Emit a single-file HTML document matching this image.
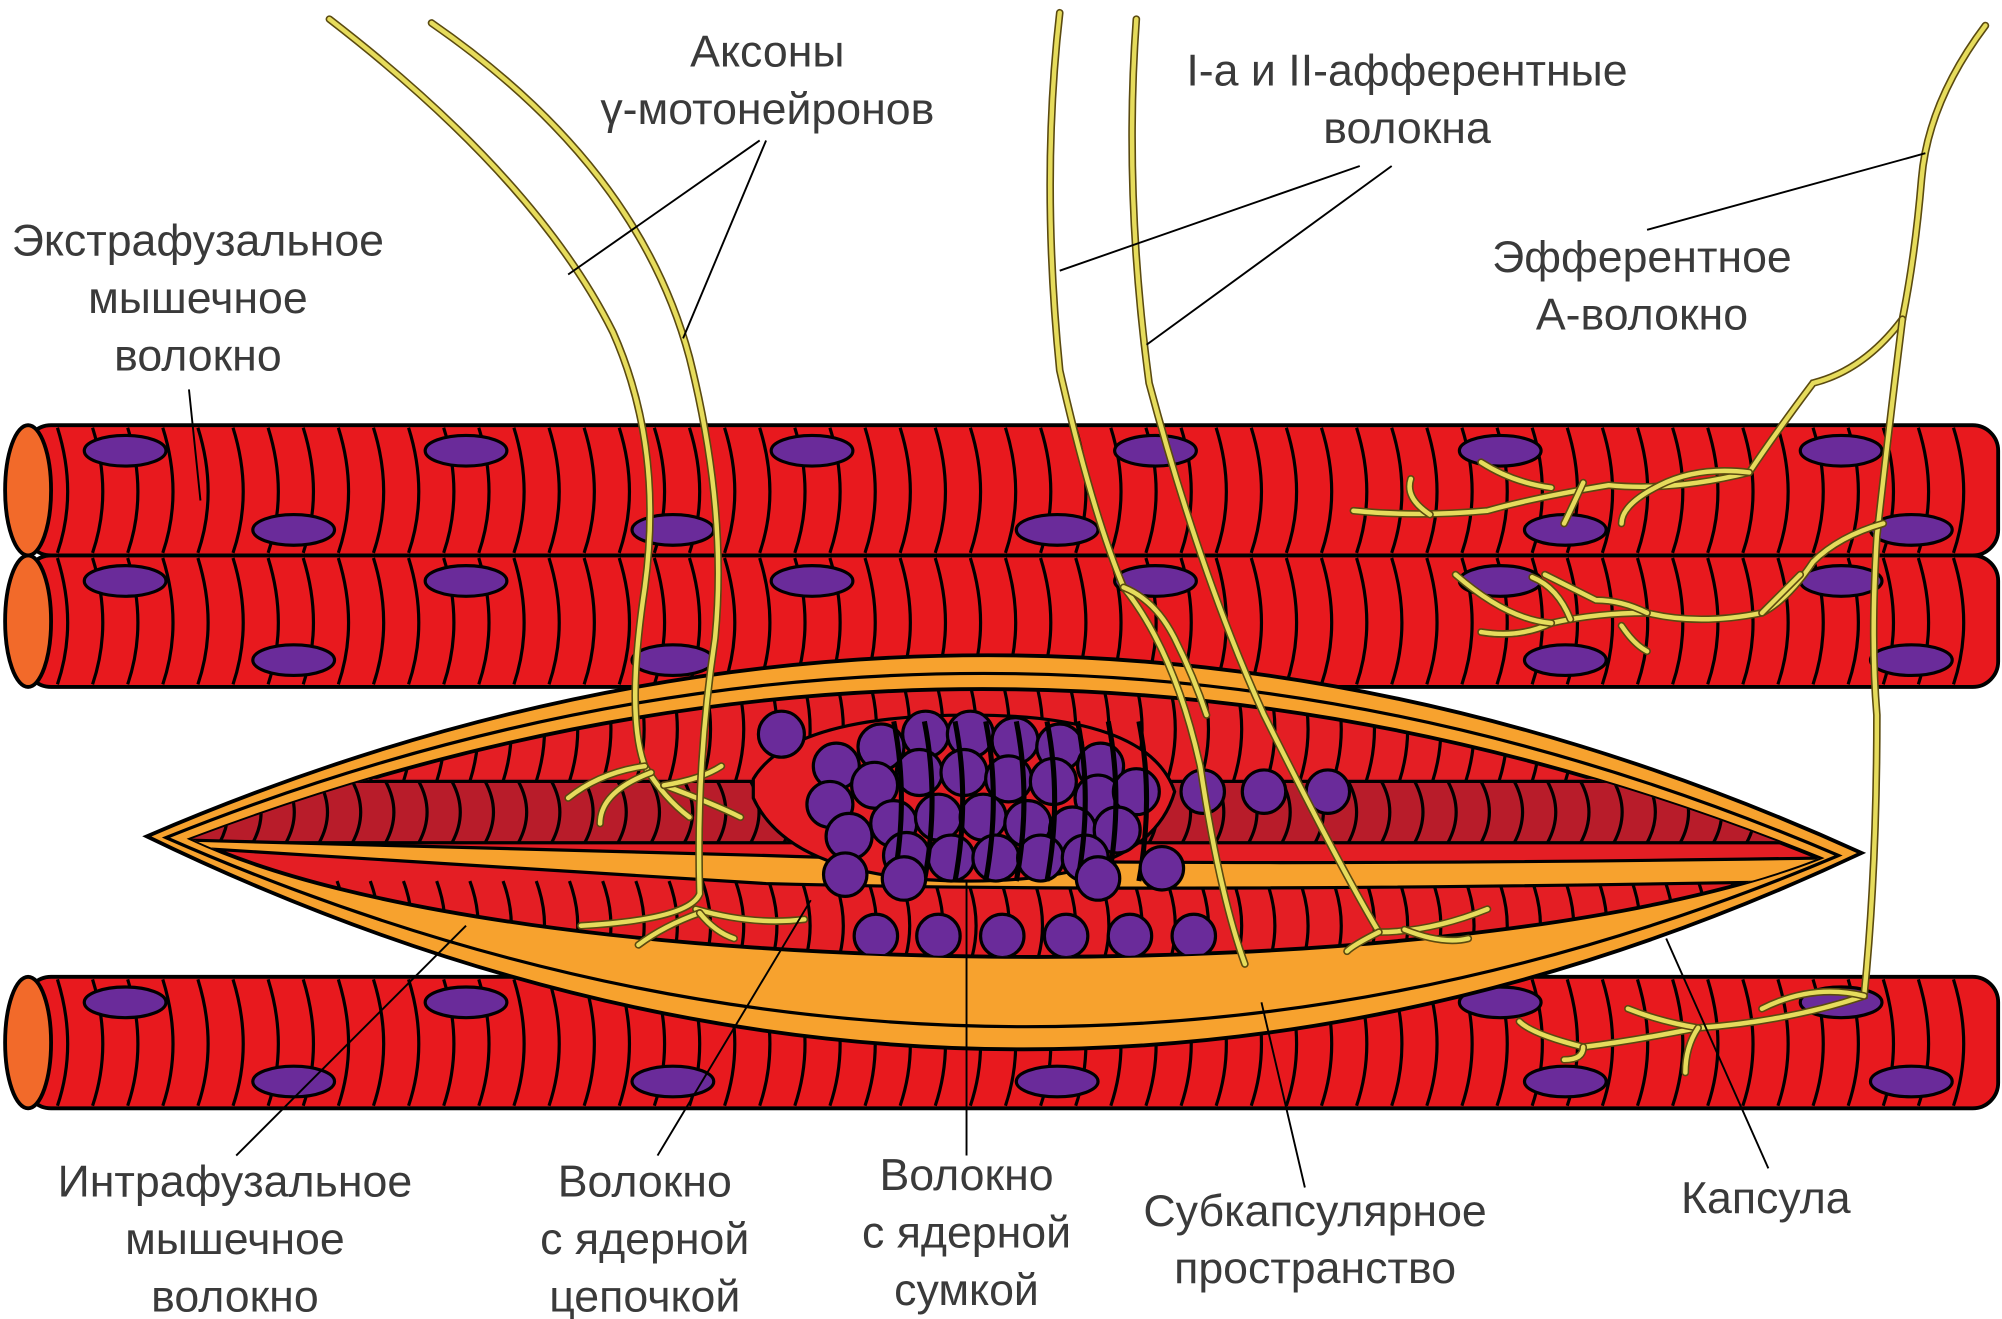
<!DOCTYPE html>
<html><head><meta charset="utf-8"><style>
html,body{margin:0;padding:0;background:#fff;width:2002px;height:1319px;overflow:hidden}
svg{display:block}
text{font-family:"Liberation Sans",sans-serif;font-size:35px;fill:#3a3a3a;text-anchor:middle}
</style></head><body>
<svg id="s" width="2002" height="1319" viewBox="0 0 1568 1033" preserveAspectRatio="none" xmlns="http://www.w3.org/2000/svg">
<defs>
<clipPath id="inner"><path d="M150,657 Q790,415 1425,672 C1150,780 400,775 150,657Z"/></clipPath>
</defs>
<g id="fibers"></g>
<g id="spindle">
<path d="M115,655 Q790,365 1458,668 Q790,982 115,655Z" fill="#f7a22e" stroke="#000" stroke-width="3"/>
<path d="M130,656 Q790,392 1440,670 Q790,945 130,656Z" fill="none" stroke="#000" stroke-width="2.5"/>
<path d="M150,657 Q790,415 1425,672 C1150,780 400,775 150,657Z" fill="#e41e24" stroke="#000" stroke-width="3"/>
<g clip-path="url(#inner)" id="inside"></g>
</g>
<g id="nerves" fill="none" stroke-linecap="round"></g>
<g stroke="#000" stroke-width="1.5" fill="none">
<line x1="445" y1="215" x2="595" y2="110"/><line x1="535" y1="265" x2="600" y2="110"/>
<line x1="830" y1="212" x2="1065" y2="130"/><line x1="898" y1="270" x2="1090" y2="130"/>
<line x1="1290" y1="180" x2="1508" y2="120"/>
<line x1="148" y1="305" x2="157" y2="392"/>
<line x1="185" y1="905" x2="365" y2="725"/>
<line x1="515" y1="905" x2="635" y2="705"/>
<line x1="757" y1="905" x2="757" y2="690"/>
<line x1="1022" y1="930" x2="988" y2="785"/>
<line x1="1385" y1="915" x2="1305" y2="735"/>
</g>
<text x="601" y="52">Аксоны</text><text x="601" y="97">γ-мотонейронов</text>
<text x="1102" y="67">I-а и II-афферентные</text><text x="1102" y="112">волокна</text>
<text x="155" y="200">Экстрафузальное</text><text x="155" y="245">мышечное</text><text x="155" y="290">волокно</text>
<text x="1286" y="213">Эфферентное</text><text x="1286" y="258">А-волокно</text>
<text x="184" y="937">Интрафузальное</text><text x="184" y="982">мышечное</text><text x="184" y="1027">волокно</text>
<text x="505" y="937">Волокно</text><text x="505" y="982">с ядерной</text><text x="505" y="1027">цепочкой</text>
<text x="757" y="932">Волокно</text><text x="757" y="977">с ядерной</text><text x="757" y="1022">сумкой</text>
<text x="1030" y="960">Субкапсулярное</text><text x="1030" y="1005">пространство</text>
<text x="1383" y="950">Капсула</text>
</svg>
<script>
var NS="http://www.w3.org/2000/svg";
function el(p,t,a){var e=document.createElementNS(NS,t);for(var k in a)e.setAttribute(k,a[k]);p.appendChild(e);return e;}
var F=document.getElementById("fibers");
function cyl(y,h,nuc){
 el(F,"rect",{x:20,y:y,width:1545,height:h,rx:20,fill:"#e8191e",stroke:"#000","stroke-width":3});
 var d="";for(var x=45;x<1545;x+=27.5){d+="M"+x+","+(y+2)+" q16,"+(h/2)+" 0,"+(h-4)+" ";}
 el(F,"path",{d:d,fill:"none",stroke:"#000","stroke-width":2.5});
 el(F,"ellipse",{cx:22,cy:y+h/2,rx:18,ry:h/2,fill:"#f26a2a",stroke:"#000","stroke-width":3});
 nuc.forEach(function(n){el(F,"ellipse",{cx:n[0],cy:y+n[1],rx:32,ry:12,fill:"#6a2b9a",stroke:"#000","stroke-width":2.5});});
}
cyl(333,102,[[98,20],[365,20],[636,20],[905,20],[1175,20],[1442,20],[230,82],[527,82],[828,82],[1226,82],[1497,82]]);
cyl(435,103,[[98,20],[365,20],[636,20],[905,20],[1175,20],[1442,20],[230,82],[527,82],[1226,82],[1497,82]]);
cyl(765,103,[[98,20],[365,20],[1175,20],[1442,20],[230,82],[527,82],[828,82],[1226,82],[1497,82]]);
var I=document.getElementById("inside");
el(I,"rect",{x:100,y:610,width:1400,height:50,fill:"#b81c2a"});
var bands=[[530,612],[612,660],[690,760]];
bands.forEach(function(b,i){var d="";var h=b[1]-b[0];for(var x=160+(i%2)*12;x<1430;x+=26){d+="M"+x+","+b[0]+" q13,"+(h/2)+" 0,"+h+" ";}
 el(I,"path",{d:d,fill:"none",stroke:"#000","stroke-width":2.5});
 el(I,"line",{x1:100,y1:b[1],x2:1500,y2:b[1],stroke:"#000","stroke-width":2.5});});
el(I,"path",{d:"M150,658 L600,670 Q900,680 1425,672 L1425,690 Q900,700 600,692 L150,664Z",fill:"#f7a22e",stroke:"#000","stroke-width":2.5});
el(I,"path",{d:"M590,610 Q620,560 760,560 Q900,560 920,620 Q900,690 760,690 Q620,690 590,625Z",fill:"#e41e24",stroke:"#000","stroke-width":2.5});
var bag=[[655,600],[690,585],[725,575],[760,575],[795,580],[830,585],[862,600],[650,630],[685,615],[720,605],[755,605],[790,610],[825,612],[860,625],[890,620],[665,655],[700,645],[735,640],[770,640],[805,645],[840,650],[875,650],[710,670],[745,672],[780,672],[815,672],[850,672],[612,575]];
bag.forEach(function(c){el(I,"circle",{cx:c[0],cy:c[1],r:18,fill:"#6a2b9a",stroke:"#000","stroke-width":2.5});});
var d3="";for(var x=700;x<900;x+=24){d3+="M"+x+",565 q12,60 0,125 ";}
el(I,"path",{d:d3,fill:"none",stroke:"#000","stroke-width":4});
[[942,620],[990,620],[1040,620],[662,685],[708,688],[860,688],[910,680],[686,733],[735,733],[785,733],[835,733],[885,733],[935,733]].forEach(function(c){el(I,"circle",{cx:c[0],cy:c[1],r:17,fill:"#6a2b9a",stroke:"#000","stroke-width":2.5});});
var N=document.getElementById("nerves");
function nerve(d){el(N,"path",{d:d,stroke:"#5a4a10","stroke-width":6});el(N,"path",{d:d,stroke:"#e6dc5c","stroke-width":3.5});}
[
"M258,15 Q420,140 480,260 Q520,350 505,460 Q490,560 505,600 Q520,625 540,640",
"M505,600 Q470,605 445,625","M510,605 Q470,620 470,645","M520,615 Q560,630 580,640","M520,615 Q550,610 565,600",
"M338,18 Q500,130 540,280 Q570,400 560,500 Q545,600 548,700 Q540,720 455,725",
"M545,712 Q590,725 630,720","M548,715 Q520,725 500,740","M548,715 Q560,730 575,735",
"M830,10 Q815,140 830,290 Q855,400 880,460 Q920,510 940,600 Q955,700 975,755",
"M880,460 Q905,470 920,500 Q935,530 945,560",
"M890,15 Q880,150 900,300 Q940,450 990,560 Q1050,680 1080,730 Q1120,730 1165,712",
"M1080,730 Q1060,740 1055,745","M1100,728 Q1130,740 1150,735",
"M1555,20 Q1510,80 1505,140 Q1500,200 1490,250 Q1460,290 1420,300 Q1390,340 1370,370 Q1310,385 1260,380 Q1200,390 1165,400 Q1110,405 1060,400",
"M1370,370 Q1330,365 1300,380 Q1270,395 1270,410","M1215,382 Q1185,378 1160,362","M1240,378 Q1230,400 1225,410","M1120,403 Q1100,390 1105,375",
"M1490,250 Q1480,330 1470,420 Q1465,500 1470,560 Q1470,680 1460,780 Q1400,800 1330,805 Q1280,815 1240,820 Q1200,810 1190,800",
"M1460,780 Q1420,770 1380,790","M1330,805 Q1300,800 1275,790","M1330,805 Q1320,820 1320,840","M1240,820 Q1240,830 1225,830",
"M1475,410 Q1440,420 1420,440 Q1400,470 1380,480 Q1330,490 1290,480 Q1250,480 1215,488 Q1190,500 1160,495",
"M1380,480 Q1400,460 1410,450","M1290,480 Q1270,470 1250,470 Q1230,460 1210,450","M1230,485 Q1220,460 1200,452","M1270,490 Q1280,505 1290,510","M1215,488 Q1180,485 1140,450"
].forEach(nerve);
</script>
</body></html>
